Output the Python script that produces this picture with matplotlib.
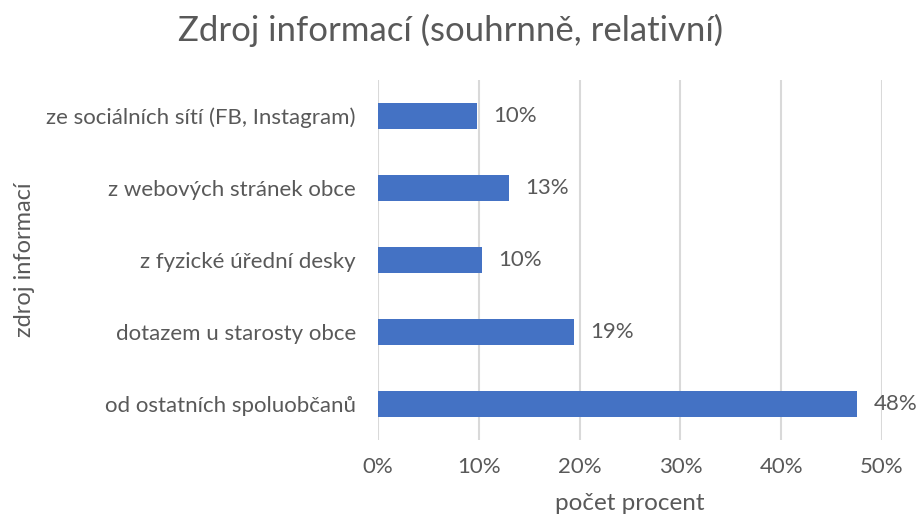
import matplotlib
matplotlib.use('Agg')
import matplotlib.pyplot as plt
from matplotlib.ticker import PercentFormatter

# data, top to bottom as in the chart
categories = ['ze sociálních sítí (FB, Instagram)',
              'z webových stránek obce',
              'z fyzické úřední desky',
              'dotazem u starosty obce',
              'od ostatních spoluobčanů']
values = [9.8, 13.0, 10.3, 19.4, 47.5]
labels = ['10%', '13%', '10%', '19%', '48%']
xticks = [0, 10, 20, 30, 40, 50]

plt.rcParams['font.family'] = ['Lato', 'DejaVu Sans']
grey = '#595959'

fig = plt.figure(figsize=(9.19, 5.2), dpi=100)
ax = fig.add_axes([0.4113, 0.1538, 0.5484, 0.6924])

ypos = list(range(len(categories)))[::-1]
ax.barh(ypos, values, height=0.35, color='#4472C4', zorder=3)

for y, v, lab in zip(ypos, values, labels):
    ax.annotate(lab, (v, y), xytext=(12, 0), textcoords='offset points',
                va='center', ha='left', fontsize=16, color=grey)

ax.set_xlim(0, 50)
ax.set_ylim(-0.5, len(categories) - 0.5)
ax.set_xticks(xticks)
ax.xaxis.set_major_formatter(PercentFormatter(decimals=0))
ax.set_yticks(ypos)
ax.set_yticklabels(categories)
ax.tick_params(axis='both', length=0, labelsize=16, labelcolor=grey)
ax.tick_params(axis='y', pad=16)
ax.tick_params(axis='x', pad=12)

ax.grid(axis='x', color='#d9d9d9', linewidth=1.5, zorder=0)
for s in ax.spines.values():
    s.set_visible(False)

ax.set_xlabel('počet procent', fontsize=17.5, color=grey, labelpad=12)
ax.set_ylabel('zdroj informací', fontsize=17, color=grey)
ax.yaxis.set_label_coords(-0.68, 0.5)

fig.suptitle('Zdroj informací (souhrnně, relativní)', fontsize=25, color=grey,
             x=0.49, y=0.942, va='center')

plt.savefig('out.png', dpi=100)
